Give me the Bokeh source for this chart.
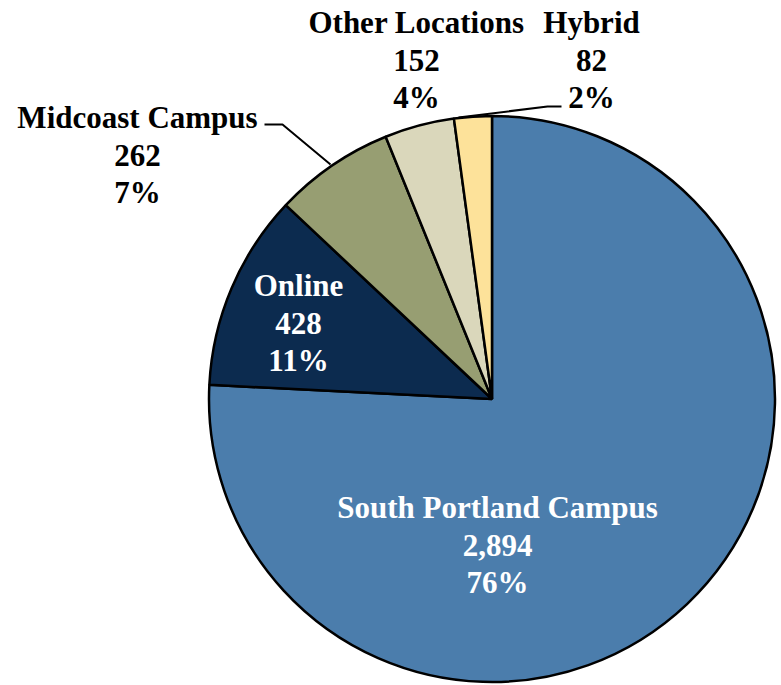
import numpy as np
from bokeh.plotting import figure
from bokeh.models import ColumnDataSource
from bokeh.core.properties import value
from bokeh.embed import file_html
from bokeh.resources import INLINE

# ---- data ----
categories = ["South Portland Campus", "Online", "Midcoast Campus", "Other Locations", "Hybrid"]
counts = [2894, 428, 262, 152, 82]
count_labels = ["2,894", "428", "262", "152", "82"]
pct_labels = ["76%", "11%", "7%", "4%", "2%"]
colors = ["#4b7dac", "#0c2b4f", "#979e72", "#dad7bb", "#fde29a"]
text_colors = ["white", "white", "black", "black", "black"]

W, H = 778, 684
def X(px):
    return px
def Y(py):
    return H - py

cx, cy, r = X(491.5), Y(398.5), 283

total = float(sum(counts))
fr = np.array(counts) / total
ends = np.cumsum(fr)
starts = ends - fr
start_ang = np.pi / 2 - starts * 2 * np.pi
end_ang = np.pi / 2 - ends * 2 * np.pi

p = figure(width=W, height=H, x_range=(0, W), y_range=(0, H),
           output_backend="svg", toolbar_location=None, min_border=0)
p.axis.visible = False
p.grid.visible = False
p.outline_line_color = None
p.background_fill_color = "white"

src = ColumnDataSource(dict(start=start_ang, end=end_ang, color=colors,
                            x=[cx] * len(counts), y=[cy] * len(counts)))
p.wedge(x="x", y="y", radius=r, start_angle="start", end_angle="end",
        direction="clock", fill_color="color", line_color="black",
        line_width=2.5, source=src)

# label anchor positions (page px): center x, first baseline y
label_pos = [(497, 507), (298, 285), (137, 117), (416, 22), (591, 22)]
line_gap = 37.5
font_size = "31px"
for i, cat in enumerate(categories):
    lx, ly = label_pos[i]
    lines = [cat, count_labels[i], pct_labels[i]]
    p.text(x=[X(lx)] * 3, y=[Y(ly + k * line_gap) for k in range(3)], text=lines,
           text_align="center", text_baseline="alphabetic",
           text_font=value("Liberation Serif"), text_font_style="bold",
           text_font_size=font_size, text_color=text_colors[i])

# leader lines
p.line(x=[X(264), X(282), X(330)], y=[Y(124), Y(124), Y(164)],
       line_color="black", line_width=2)
p.line(x=[X(561), X(547), X(458)], y=[Y(106), Y(106), Y(117)],
       line_color="black", line_width=2)

open("out.html", "w").write(file_html(p, INLINE))
